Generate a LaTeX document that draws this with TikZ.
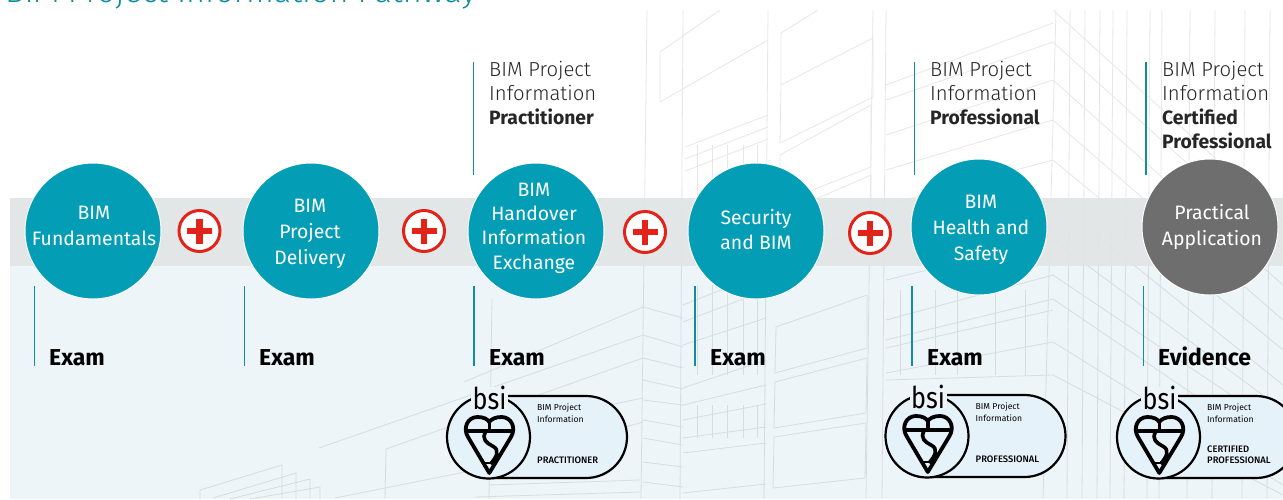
\documentclass[tikz,border=0pt]{standalone}
\usepackage{fontspec}
\setmainfont{Fira Sans}
\newfontfamily\lightfont{Fira Sans Light}
\newfontfamily\mediumfont{Fira Sans Medium}
\usetikzlibrary{positioning, calc}

\definecolor{tealcolor}{RGB}{3, 158, 182}
\definecolor{rulecolor}{RGB}{18, 140, 163}
\definecolor{titlecolor}{RGB}{14, 140, 156}
\definecolor{bandcolor}{RGB}{226, 229, 230}
\definecolor{palecolor}{RGB}{237, 245, 248}
\definecolor{pillcolor}{RGB}{230, 242, 249}
\definecolor{plusred}{RGB}{226, 35, 26}
\definecolor{linecolor}{RGB}{216, 220, 222}

\newcommand{\certbold}{\normalfont\fontsize{19.3}{24}\selectfont\bfseries}

\tikzset{
  stepcircle/.style={circle, draw=white, line width=1pt, fill=tealcolor, minimum size=136pt, inner sep=0pt},
  steptext/.style={text=white, align=center, inner sep=0pt, font=\fontsize{19.4}{#1}\selectfont},
  plusmark/.style={circle, draw=plusred, line width=3pt, fill=white, minimum size=41pt, inner sep=0pt,
    path picture={
      \draw[plusred, line width=6.5pt] ($(path picture bounding box.center)+(-12.5,0)$) -- ($(path picture bounding box.center)+(12.5,0)$);
      \draw[plusred, line width=6.5pt] ($(path picture bounding box.center)+(0,-12.5)$) -- ($(path picture bounding box.center)+(0,12.5)$);
    }},
  rulebar/.style={draw=rulecolor, line width=1.6pt},
  toplabel/.style={anchor=north west, align=left, inner sep=0pt, text=black!85, font=\lightfont\fontsize{20.3}{24}\selectfont},
  examlabel/.style={anchor=base west, inner sep=0pt, font=\fontsize{23}{26}\selectfont\bfseries},
  buildline/.style={draw=linecolor, line width=0.8pt},
  pics/bsibadge/.style={code={
    \draw[line width=2.2pt, fill=pillcolor, rounded corners=41pt] (-41,-41) rectangle (138.5,41);
    \draw[line width=2.2pt, fill=pillcolor] (0,0) circle (41.5);
    \node[fill=palecolor, minimum width=37pt, minimum height=22pt, inner sep=0pt] (gap) at (1,-39) {};
    \node[anchor=base, inner sep=0pt, font=\fontsize{30}{30}\selectfont] (logo) at (1,-27.5) {\scalebox{0.84}[1]{bsi}};
    \draw[line width=3.8pt, line join=round] (0.8,36) -- (-20.5,0)
      .. controls (-26,-9) and (-21,-20) .. (-11,-20)
      .. controls (-5,-20) and (-1,-18) .. (0.8,-15)
      .. controls (3,-18) and (7,-20) .. (13,-20)
      .. controls (23,-20) and (28,-9) .. (22.5,0) -- cycle;
    \draw[line width=3.6pt] (0.8,-15) -- (0.8,-6);
    \draw[line width=4.4pt] (-23,-6) -- (25,-6);
    \draw[line width=3.6pt] (-3,-5) .. controls (-7,2) and (-2,6) .. (4,9)
      .. controls (12,13) and (8,20) .. (2,27);
    \draw[line width=2.8pt] (-6,26) -- (8,26);
    \node[anchor=north west, align=left, inner sep=0pt, font=\fontsize{8.6}{11.5}\selectfont] (name) at (48.5,-33) {BIM Project\\Information};
    \node[anchor=base west, align=left, inner sep=0pt, font=\mediumfont\fontsize{9.4}{11.5}\selectfont] (level) at (48.5,26.5) {#1};
  }}
}

\begin{document}
\begin{tikzpicture}[x=1pt, y=-1pt]
\useasboundingbox (0,0) rectangle (1283,499);
\clip (0,0) rectangle (1283,499);
\fill[white] (0,0) rectangle (1283,499);

% Pale ground
\fill[palecolor] (10,266) rectangle (1283,499);

% Building lines
\begin{scope}
\clip (10,10) rectangle (1283,499);
\foreach \xa/\xb in {647/641, 768/764, 873/866, 886/882, 1056/1043, 683/680, 1070/1067, 1085/1082, 1100/1097, 1113/1110, 1127/1124, 1150/1147, 1162/1159, 1190/1187, 1215/1212, 1245/1242, 1270/1267} {
    \draw[buildline] (\xa,10) -- (\xb,499);
}
\foreach \ya/\yb in {23/85, 42/100, 80/135, 120/170, 160/205, 200/240, 240/280, 275/320, 299/340, 310/348, 342/373, 375/380} {
    \draw[buildline] (1053,\ya) -- (886,\yb);
}
\foreach \ya/\yb in {10/220, 42/250, 80/285, 120/320, 160/350, 200/385, 240/410, 275/430, 299/455, 342/485, 375/495} {
    \draw[buildline] (1053,\ya) -- (1283,\yb);
}
% Panels
\draw[buildline] (776,327) -- (867,295) -- (867,348) -- (775,373) -- cycle;
\draw[buildline] (775,382) -- (867,358) -- (866,413) -- (774,428) -- cycle;
\draw[buildline] (774,437) -- (866,423) -- (865,478) -- (773,488) -- cycle;
\draw[buildline] (781,85) -- (873,38) -- (873,97) -- (780,143) -- cycle;
\draw[buildline] (780,155) -- (871,105) -- (871,167) -- (779,203) -- cycle;
\draw[buildline] (779,215) -- (871,175) -- (871,225) -- (778,262);
\draw[buildline] (781,85) -- (781,33) -- (818,10);
\draw[buildline] (720,10) -- (660,52) -- (660,102) -- (768,40);
% Window grids
\foreach \ya/\yb in {147/115, 159/127, 171/139, 205/172, 232/198} {
    \draw[buildline] (685,\ya) -- (768,\yb);
}
\foreach \ya/\yb in {305/272, 322/290, 345/318, 388/360, 405/385, 420/404, 438/427, 453/443, 493/484} {
    \draw[buildline] (683,\ya) -- (766,\yb);
}
\foreach \x in {697, 712, 727, 743, 757} {
    \draw[buildline] (\x,145) -- (\x,205);
    \draw[buildline] (\x,285) -- (\x,375);
    \draw[buildline] (\x,405) -- (\x,438);
}
\foreach \ya/\yb in {307/318, 335/347, 358/368, 380/389, 400/405, 420/427, 438/445, 462/467, 482/487} {
    \draw[buildline] (643,\ya) -- (683,\yb);
}
\foreach \x in {900, 935, 957, 995, 1025} {
    \draw[buildline] (\x,290) -- (\x,375);
}
% Left wing
\draw[buildline] (643,307) -- (464,382);
\draw[buildline] (643,335) -- (319,448);
\draw[buildline] (643,358) -- (386,449) -- (385,499);
\draw[buildline] (643,398) -- (489,430);
\draw[buildline] (643,422) -- (460,473) -- (335,498);
\draw[buildline] (492,299) -- (489,499);
\draw[buildline] (489,485) -- (641,480);
\draw[buildline] (475,497) -- (641,492);
\draw[buildline] (200,499) -- (200,490) -- (282,465) -- (282,499);
\draw[buildline] (213,498) -- (296,473) -- (296,499);
\draw[buildline] (230,499) -- (310,479) -- (310,499);
\draw[buildline] (250,499) -- (320,487) -- (320,499);
\end{scope}
\fill[white, opacity=0.35] (10,0) rectangle (1283,198);

% Title, cut by the top edge
\node[anchor=base west, inner sep=0pt, text=titlecolor, font=\lightfont\fontsize{32.5}{33}\selectfont] (title) at (5,2) {BIM Project Information Pathway};

% Grey band
\fill[bandcolor, opacity=0.96] (10,198) rectangle (1283,266);

% Course circles
\node[stepcircle] (fund) at (93,231) {};
\node[stepcircle] (deli) at (311,231) {};
\node[stepcircle] (hand) at (536,231) {};
\node[stepcircle] (secu) at (756,231) {};
\node[stepcircle] (heal) at (979,227) {};
\node[stepcircle, fill=black!57] (prac) at (1210,227) {};

\node[steptext=26] (fundtext) at (94,226) {BIM\\Fundamentals};
\node[steptext=26] (delitext) at (310,233.5) {BIM\\Project\\Delivery};
\node[steptext=24.3] (handtext) at (534,228) {BIM\\Handover\\Information\\Exchange};
\node[steptext=25] (secutext) at (756,229.5) {Security\\and BIM};
\node[steptext=26] (healtext) at (981,230) {BIM\\Health and\\Safety};
\node[steptext=26] (practext) at (1212,227) {Practical\\Application};

% Plus marks
\node[plusmark] (plus1) at (199.5,231) {};
\node[plusmark] (plus2) at (424,231) {};
\node[plusmark] (plus3) at (645,232) {};
\node[plusmark] (plus4) at (870,233) {};

% Rules
\foreach \n/\x/\ya/\yb in {t1/473.5/62/175, t2/914.5/62/175, t3/1146/62/175, b1/34.5/286/366, b2/244.5/286/366, b3/474/286/366, b4/695/286/366, b5/912/286/366, b6/1143.5/286/366} {
    \coordinate (\n a) at (\x,\ya);
    \coordinate (\n b) at (\x,\yb);
    \draw[rulebar] (\n a) -- (\n b);
}

% Certificate names
\node[toplabel] (cert1) at (489,61) {BIM Project\\Information\\{\certbold Practitioner}};
\node[toplabel] (cert2) at (930,61) {BIM Project\\Information\\{\certbold Professional}};
\node[toplabel] (cert3) at (1162,61) {BIM Project\\Information\\{\certbold Certified}\\{\certbold Professional}};

% Assessment
\node[examlabel] (exam1) at (49,365) {Exam};
\node[examlabel] (exam2) at (259,365) {Exam};
\node[examlabel] (exam3) at (489,365) {Exam};
\node[examlabel] (exam4) at (710,365) {Exam};
\node[examlabel] (exam5) at (927,365) {Exam};
\node[examlabel] (evid) at (1158,365) {Evidence};

% Badges
\pic (badge1) at (488.5,437) {bsibadge={PRACTITIONER}};
\pic (badge2) at (927,436) {bsibadge={PROFESSIONAL}};
\pic (badge3) at (1158.5,437) {bsibadge={CERTIFIED\\PROFESSIONAL}};
\end{tikzpicture}
\end{document}
